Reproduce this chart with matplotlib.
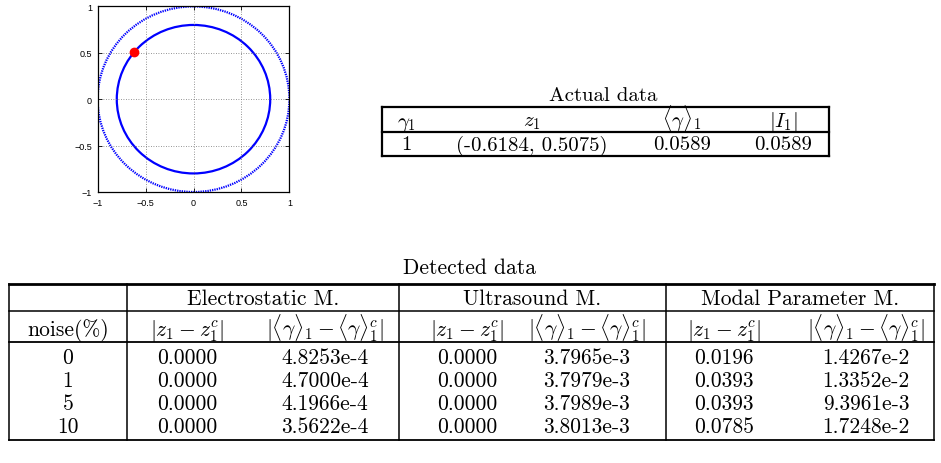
import matplotlib
matplotlib.use("Agg")
import matplotlib.pyplot as plt
from matplotlib.patches import Circle

# ---------------- data ----------------
outer_radius = 1.0
inner_radius = 0.8
z1 = (-0.6184, 0.5075)
ticks = [-1, -0.5, 0, 0.5, 1]
tick_labels = ["\u22121", "\u22120.5", "0", "0.5", "1"]

actual_title = "Actual data"
actual_headers = [r"$\gamma_1$", r"$z_1$", r"$\langle\gamma\rangle_1$", r"$|I_1|$"]
actual_row = ["1", "(-0.6184, 0.5075)", "0.0589", "0.0589"]

detected_title = "Detected data"
methods = ["Electrostatic M.", "Ultrasound M.", "Modal Parameter M."]
noise_header = "noise(%)"
sub_headers = [r"$|z_1 - z_1^c|$", r"$|\langle\gamma\rangle_1 - \langle\gamma\rangle_1^c|$"]
noise = ["0", "1", "5", "10"]
electro_z = ["0.0000", "0.0000", "0.0000", "0.0000"]
electro_g = ["4.8253e-4", "4.7000e-4", "4.1966e-4", "3.5622e-4"]
ultra_z = ["0.0000", "0.0000", "0.0000", "0.0000"]
ultra_g = ["3.7965e-3", "3.7979e-3", "3.7989e-3", "3.8013e-3"]
modal_z = ["0.0196", "0.0393", "0.0393", "0.0785"]
modal_g = ["1.4267e-2", "1.3352e-2", "9.3961e-3", "1.7248e-2"]

# ---------------- figure ----------------
plt.rcParams["mathtext.fontset"] = "cm"
W, H = 941, 464
fig = plt.figure(figsize=(W / 100, H / 100), dpi=100)


def px_rect(l, t, r, b):
    return [l / W, 1 - b / H, (r - l) / W, (b - t) / H]


# circle plot
ax = fig.add_axes(px_rect(97.6, 7.4, 289.4, 193.0))
ax.add_patch(Circle((0, 0), outer_radius, fill=False, edgecolor="blue",
                    lw=1.6, linestyle=(0, (0.6, 0.45))))
ax.add_patch(Circle((0, 0), inner_radius, fill=False, edgecolor="blue", lw=1.6))
ax.plot([z1[0]], [z1[1]], "o", color="red", mec="red", ms=6, zorder=5)
ax.set_xlim(-1, 1)
ax.set_ylim(-1, 1)
ax.set_xticks(ticks)
ax.set_yticks(ticks)
ax.set_xticklabels(tick_labels, family="Liberation Sans")
ax.set_yticklabels(tick_labels, family="Liberation Sans")
ax.grid(True, color="0.45", linestyle=(0, (1, 2)), lw=0.6)
ax.tick_params(direction="in", length=3, width=0.6, labelsize=6.5, pad=4,
               top=True, right=True)
for s in ax.spines.values():
    s.set_linewidth(0.9)

# overlay for tables (pixel coordinates)
tx = fig.add_axes([0, 0, 1, 1])
tx.set_xlim(0, W)
tx.set_ylim(H, 0)
tx.axis("off")
tx.patch.set_alpha(0)

FS = 15.5


def txt(x, y, s, fs=FS):
    kw = {}
    if not s.startswith("$"):
        kw["family"] = "cmr10"
    tx.text(x, y, s, ha="center", va="baseline", fontsize=fs, **kw)


def hline(x0, x1, y, lw):
    tx.plot([x0, x1], [y, y], color="black", lw=lw, solid_capstyle="projecting")


def vline(x, y0, y1, lw):
    tx.plot([x, x], [y0, y1], color="black", lw=lw, solid_capstyle="projecting")


# ----- actual data table -----
AFS = 15
aL, aR, aT, aM, aB = 382, 829, 108, 133, 157
a_cols = [406, 532, 682, 783]
txt(603, 101, actual_title, AFS)
for y in (aT, aM, aB):
    hline(aL, aR, y, 1.6)
vline(aL, aT, aB, 1.6)
vline(aR, aT, aB, 1.6)
for x, s in zip(a_cols, actual_headers):
    txt(x, aM - 6.5, s, AFS)
for x, s in zip(a_cols, actual_row):
    txt(x, aB - 6.5, s, AFS)

# ----- detected data table -----
dL, dR = 9, 934
dT, d1, d2 = 285, 312, 343
row_h = 23
dB = 441
group_x = [127, 399, 666]
group_r = [399, 666, 934]
sub_offs = [(60, 198), (68, 188), (58, 200)]
txt(470, 274, detected_title)
hline(dL, dR, dT, 2.0)
hline(dL, dR, d1, 1.1)
hline(dL, dR, d2, 1.3)
hline(dL, dR, dB, 1.3)
vline(dL, dT, dB, 1.1)
for gx in group_x:
    vline(gx, dT, dB, 1.1)
vline(dR, dT, dB, 1.1)

txt(68, d2 - 7, noise_header)
for gx, gr, m, offs in zip(group_x, group_r, methods, sub_offs):
    txt((gx + gr) / 2, d1 - 7, m)
    for off, sh in zip(offs, sub_headers):
        txt(gx + off, d2 - 7, sh)

cols = [electro_z, electro_g, ultra_z, ultra_g, modal_z, modal_g]
for i, n in enumerate(noise):
    yb = d2 + 21 + row_h * i
    txt(68, yb, n)
    for j, col in enumerate(cols):
        gx = group_x[j // 2]
        txt(gx + sub_offs[j // 2][j % 2], yb, col[i])

fig.savefig("out.png", dpi=100)
